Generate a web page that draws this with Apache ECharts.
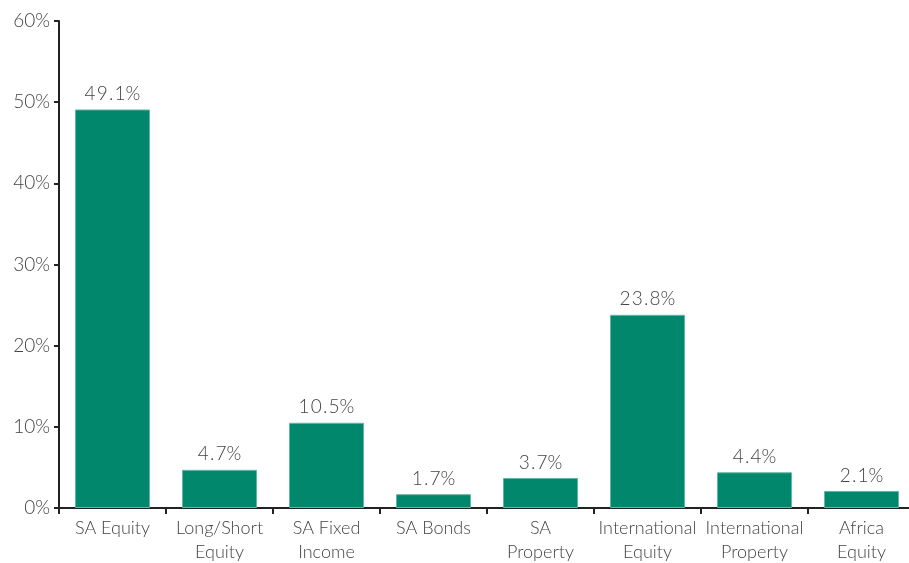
<!DOCTYPE html>
<html>
<head>
<meta charset="utf-8">
<script src="https://cdn.jsdelivr.net/npm/echarts@6/dist/echarts.min.js"></script>
<style>
  html, body { margin: 0; padding: 0; background: #fff; }
  #chart { width: 909px; height: 563px; }
</style>
</head>
<body>
<div id="chart"></div>
<script>
// Asset allocation by category (percent of portfolio)
const categories = [
  'SA Equity', 'Long/Short\nEquity', 'SA Fixed\nIncome', 'SA Bonds',
  'SA\nProperty', 'International\nEquity', 'International\nProperty', 'Africa\nEquity'
];
const allocation = [49.1, 4.7, 10.5, 1.7, 3.7, 23.8, 4.4, 2.1];
const yTicks = { min: 0, max: 60, step: 10 };

const FONT = 'Lato';
const WEIGHT = 300;
const TEXT = '#444444';

const chart = echarts.init(document.getElementById('chart'), null, { renderer: 'canvas' });
chart.setOption({
  animation: false,
  backgroundColor: '#ffffff',
  grid: {
    left: 59, top: 21, width: 856, bottom: 55,
    containLabel: false, outerBoundsMode: 'none'
  },
  xAxis: {
    type: 'category',
    data: categories,
    axisLine: { lineStyle: { color: '#222', width: 2 } },
    axisTick: { show: true, alignWithLabel: false, length: 6, lineStyle: { color: '#222', width: 2 } },
    axisLabel: {
      interval: 0, margin: 8, color: TEXT, fontFamily: FONT, fontWeight: WEIGHT,
      fontSize: 18, lineHeight: 24
    }
  },
  yAxis: {
    type: 'value',
    min: yTicks.min, max: yTicks.max, interval: yTicks.step,
    splitLine: { show: false },
    axisLine: { show: true, lineStyle: { color: '#222', width: 2 } },
    axisTick: { show: true, length: 5, lineStyle: { color: '#222', width: 2 } },
    axisLabel: {
      margin: 9, color: TEXT, fontFamily: FONT, fontWeight: WEIGHT, fontSize: 19,
      formatter: v => v + '%'
    }
  },
  series: [{
    type: 'bar',
    data: allocation,
    barWidth: 75,
    itemStyle: { color: '#00876c', borderColor: '#5fb8a4', borderWidth: 1 },
    label: {
      show: true, position: 'top', distance: 6,
      color: TEXT, fontFamily: FONT, fontWeight: WEIGHT, fontSize: 19,
      formatter: p => p.value.toFixed(1).split('').join('\u200A') + '%'
    }
  }]
});
</script>
</body>
</html>
